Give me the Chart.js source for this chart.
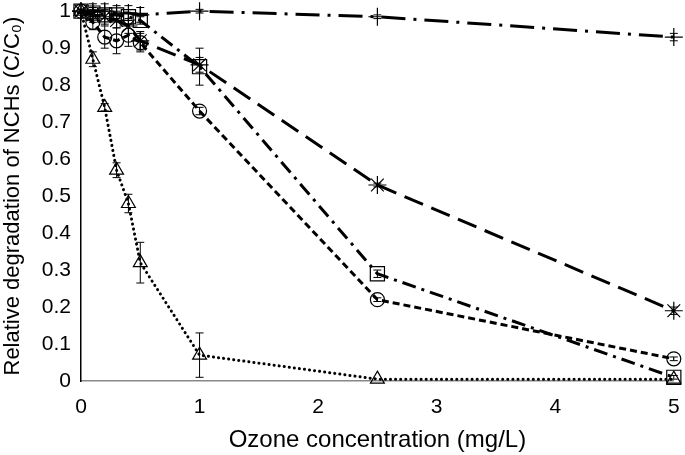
<!DOCTYPE html>
<html>
<head>
<meta charset="utf-8">
<script src="https://cdn.jsdelivr.net/npm/chart.js@4.4.1/dist/chart.umd.min.js"></script>
<style>
  html, body { margin: 0; padding: 0; background: #fff; }
  #wrap { width: 685px; height: 455px; }
</style>
</head>
<body>
<div id="wrap"><canvas id="chart" width="685" height="455"></canvas></div>
<script>
// ozone dose (mg/L)
let doses = [0, 0.1, 0.2, 0.3, 0.4, 0.5, 1, 2.5, 5];

// C/C0 per series
let triVals = [1.0, 0.87, 0.74, 0.57, 0.48, 0.32, 0.07, 0.005, 0.005];
let circVals = [1.0, 0.97, 0.93, 0.92, 0.935, 0.915, 0.73, 0.22, 0.06];
let sqVals = [1.0, 0.995, 0.99, 0.99, 0.985, 0.975, 0.85, 0.29, 0.01];
let starVals = [1.0, 0.99, 0.985, 0.975, 0.96, 0.92, 0.855, 0.53, 0.19];
let plusVals = [1.0, 1.0, 1.0, 0.995, 0.995, 0.99, 1.0, 0.985, 0.93];

// error bars (+/-)
let triErr = [0.005, 0.02, 0.01, 0.02, 0.025, 0.055, 0.06, 0, 0];
let circErr = [0.005, 0.02, 0.03, 0.035, 0.03, 0.025, 0.01, 0.005, 0.005];
let sqErr = [0.005, 0.01, 0.01, 0.01, 0.01, 0.01, 0.05, 0.01, 0.005];
let starErr = [0.005, 0.02, 0.02, 0.02, 0.02, 0.025, 0.02, 0.005, 0.01];
let plusErr = [0.005, 0.02, 0.02, 0.02, 0.02, 0.02, 0.005, 0.005, 0.01];

let xTicks = [0, 1, 2, 3, 4, 5];

function pts(vals) {
    return doses.map((d, i) => ({ x: d, y: vals[i] }))
}

let fontFam = "'Liberation Sans', Arial, sans-serif";

let errorBars = {
    id: 'errorBars',
    afterDatasetsDraw(chart) {
        let ctx = chart.ctx
        let yScale = chart.scales.y
        chart.data.datasets.forEach((ds, di) => {
            let meta = chart.getDatasetMeta(di)
            ctx.save()
            ctx.strokeStyle = '#000'
            ctx.lineWidth = 1
            ds.errors.forEach((e, i) => {
                if (!e) return
                let p = meta.data[i]
                let top = yScale.getPixelForValue(ds.data[i].y + e)
                let bot = yScale.getPixelForValue(ds.data[i].y - e)
                ctx.beginPath()
                ctx.moveTo(p.x, top); ctx.lineTo(p.x, bot)
                ctx.moveTo(p.x - 4, top); ctx.lineTo(p.x + 4, top)
                ctx.moveTo(p.x - 4, bot); ctx.lineTo(p.x + 4, bot)
                ctx.stroke()
            })
            ctx.restore()
        })
    }
}

function series(label, vals, errs, style, radius, dash, cap) {
    return {
        label: label,
        data: pts(vals),
        errors: errs,
        borderColor: '#000',
        backgroundColor: 'rgba(0,0,0,0)',
        borderWidth: 3,
        borderDash: dash,
        borderCapStyle: cap,
        pointStyle: style,
        pointRadius: radius,
        pointBorderWidth: 1.2,
        pointBorderColor: '#000',
        pointBackgroundColor: 'rgba(0,0,0,0)',
        tension: 0,
        fill: false,
        clip: false
    }
}

new Chart(document.getElementById('chart').getContext('2d'), {
    type: 'line',
    data: {
        datasets: [
            series('Triangle', triVals, triErr, 'triangle', 8, [0.1, 5], 'round'),
            series('Circle', circVals, circErr, 'circle', 7, [7, 4], 'butt'),
            series('Square', sqVals, sqErr, 'rect', 10, [14, 6, 3, 6], 'butt'),
            series('Star', starVals, starErr, 'star', 9, [20, 9], 'butt'),
            series('Plus', plusVals, plusErr, 'cross', 9, [24, 8, 3, 8], 'butt')
        ]
    },
    options: {
        responsive: false,
        animation: false,
        layout: { padding: 0 },
        plugins: {
            legend: { display: false },
            tooltip: { enabled: false }
        },
        scales: {
            x: {
                type: 'linear',
                min: 0,
                max: 5,
                afterBuildTicks: (s) => { s.ticks = xTicks.map(v => ({ value: v })) },
                grid: { display: false, drawTicks: false },
                border: { display: true, color: '#888', width: 1.5 },
                ticks: { color: '#000', font: { family: fontFam, size: 21 }, padding: 14 },
                title: {
                    display: true,
                    text: 'Ozone concentration (mg/L)',
                    color: '#000',
                    font: { family: fontFam, size: 24 },
                    padding: { top: 2, bottom: 0 }
                },
                afterFit: (s) => {
                    s.height = 74
                    s.paddingLeft = 0
                    s.paddingRight = 8
                }
            },
            y: {
                min: 0,
                max: 1,
                grid: { display: false, drawTicks: false },
                border: { display: true, color: '#000', width: 1.5 },
                ticks: {
                    stepSize: 0.1,
                    color: '#000',
                    font: { family: fontFam, size: 21 },
                    padding: 10,
                    callback: (v) => Math.round(v * 10) / 10
                },
                title: {
                    display: true,
                    text: 'Relative degradation of NCHs (C/C\u2080)',
                    color: '#000',
                    font: { family: fontFam, size: 22 },
                    padding: { top: 0, bottom: 0 }
                },
                afterFit: (s) => {
                    s.width = 81
                    s.paddingTop = 10
                    s.paddingBottom = 0
                }
            }
        }
    },
    plugins: [errorBars]
})
</script>
</body>
</html>
